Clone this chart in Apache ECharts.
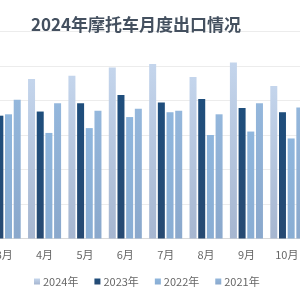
<!DOCTYPE html>
<html>
<head>
<meta charset="utf-8">
<script src="https://cdn.jsdelivr.net/npm/echarts@6/dist/echarts.min.js"></script>
<style>
  html, body { margin: 0; padding: 0; background: #fff; overflow: hidden; }
  body { width: 300px; height: 300px; position: relative; }
  /* the reference is a crop of a wider chart: shift the canvas left */
  #chart { width: 323px; height: 300px; position: absolute; left: -16px; top: 0; }
</style>
</head>
<body>
<div id="chart"></div>
<script>
// visible part of the chart: 3月 (cut at left) .. 10月 (cut at right)
var months = ['3月', '4月', '5月', '6月', '7月', '8月', '9月', '10月']
var y2024 = [null, 231, 236, 248, 253, 234, 255, 221]
var y2023 = [178, 184, 196, 208, 197, 202, 189, 183]
var y2022 = [180, 153, 160, 176, 183, 150, 155, 145]
var y2021 = [201, 196, 185, 188, 185, 180, 196, 190]

function grad (top, bottom) {
  return new echarts.graphic.LinearGradient(0, 0, 0, 1, [
    { offset: 0, color: top },
    { offset: 1, color: bottom }
  ])
}

var myChart = echarts.init(document.getElementById('chart'))
var font = '"Noto Sans CJK SC", "Noto Sans", sans-serif'
var barW = 7

var option = {
  animation: false,
  backgroundColor: '#fff',
  title: {
    text: '2024年摩托车月度出口情况',
    left: 42,
    top: 11,
    textStyle: {
      fontFamily: font,
      fontSize: 17,
      fontWeight: 'bold',
      color: '#44505f'
    }
  },
  legend: {
    left: 45,
    top: 271,
    itemWidth: 6,
    itemHeight: 6,
    itemGap: 16,
    icon: 'rect',
    textStyle: { fontFamily: font, fontSize: 11, color: '#666', padding: [0, 0, 0, -2] },
    data: ['2024年', '2023年', '2022年', '2021年']
  },
  grid: {
    left: 0,
    right: 0,
    top: 31.5,
    bottom: 61.5
  },
  xAxis: {
    type: 'category',
    data: months,
    axisLine: { lineStyle: { color: '#d9d9d9' } },
    axisTick: { show: false },
    axisLabel: { fontFamily: font, fontSize: 11, color: '#666', margin: 11 }
  },
  yAxis: {
    type: 'value',
    min: 0,
    max: 300,
    interval: 50,
    axisLabel: { show: false },
    axisLine: { show: false },
    axisTick: { show: false },
    splitLine: { lineStyle: { color: '#ececec' } }
  },
  series: [
    {
      name: '2024年', type: 'bar', data: y2024, barWidth: barW, barGap: '24%',
      itemStyle: { color: grad('#c4d5ec', '#a6b6d0') }
    },
    {
      name: '2023年', type: 'bar', data: y2023, barWidth: barW,
      itemStyle: { color: grad('#1f4e7c', '#274a72') }
    },
    {
      name: '2022年', type: 'bar', data: y2022, barWidth: barW,
      itemStyle: { color: grad('#8fb6dd', '#89add3') }
    },
    {
      name: '2021年', type: 'bar', data: y2021, barWidth: barW,
      itemStyle: { color: grad('#94b7dc', '#8aa8cc') }
    }
  ]
}
myChart.setOption(option, true)
</script>
</body>
</html>
